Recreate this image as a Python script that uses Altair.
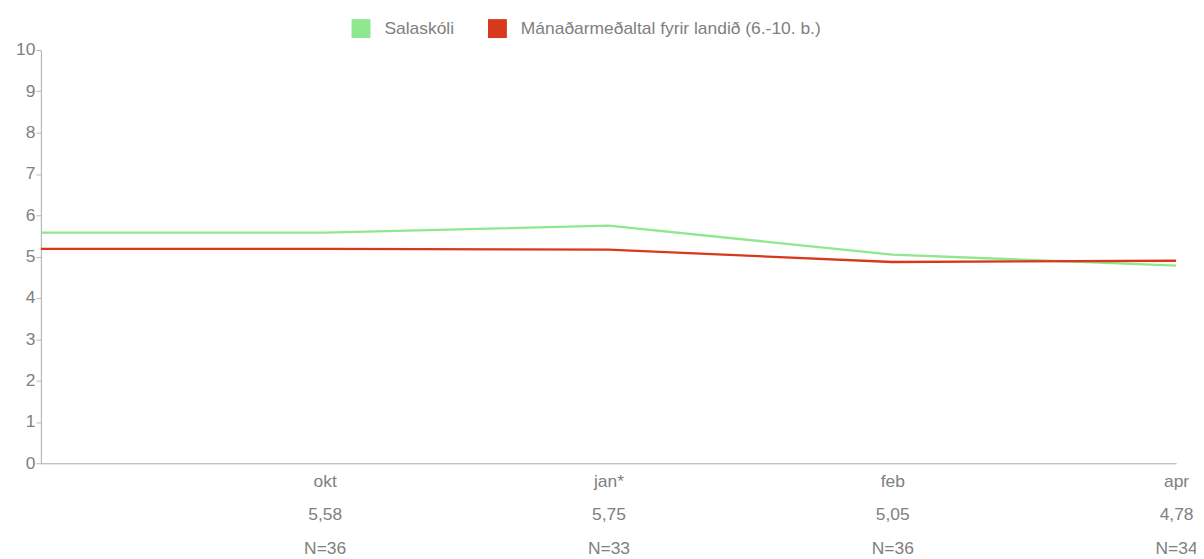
import altair as alt
import pandas as pd

categories = ["", "okt", "jan*", "feb", "apr"]
value_labels = ["", "5,58", "5,75", "5,05", "4,78"]
n_labels = ["", "N=36", "N=33", "N=36", "N=34"]
series_names = ["Salaskóli", "Mánaðarmeðaltal fyrir landið (6.-10. b.)"]
school_values = [5.58, 5.58, 5.75, 5.05, 4.78]
national_values = [5.19, 5.19, 5.17, 4.87, 4.90]
colors = ["#8fe88f", "#d8391c"]

rows = []
for i, c in enumerate(categories):
    rows.append({"cat": c, "series": series_names[0], "v": school_values[i], "order": i})
    rows.append({"cat": c, "series": series_names[1], "v": national_values[i], "order": i})
df = pd.DataFrame(rows)

expr = "''"
for c, v, n in zip(categories, value_labels, n_labels):
    if c == "":
        continue
    expr = f"datum.value === '{c}' ? ['{c}', '{v}', '{n}'] : ({expr})"

FONT = "Liberation Sans"
GRAY = "#808080"

chart = alt.Chart(df).mark_line(interpolate="linear", strokeWidth=2.3).encode(
    x=alt.X("cat:N", sort=categories, scale=alt.Scale(type="point", padding=0),
            axis=alt.Axis(title=None, labelExpr=expr, labelAngle=0, ticks=False,
                          labelLineHeight=34, labelPadding=9, labelFontSize=17.5,
                          labelColor=GRAY, domainColor="#aaa", labelFont=FONT)),
    y=alt.Y("v:Q", scale=alt.Scale(domain=[0, 10], nice=False),
            axis=alt.Axis(title=None, values=list(range(11)), tickSize=5, labelPadding=1,
                          labelFontSize=17.5, labelColor=GRAY, domainColor="#aaa",
                          tickColor="#bbb", grid=False, labelFont=FONT)),
    color=alt.Color("series:N", scale=alt.Scale(domain=series_names, range=colors),
                    legend=alt.Legend(title=None, orient="none", legendX=312, legendY=-31,
                                      direction="horizontal", symbolType="square",
                                      symbolSize=81, symbolStrokeWidth=10,
                                      labelFontSize=17.5, labelColor=GRAY, labelLimit=0,
                                      labelFont=FONT, labelOffset=14,
                                      columnPadding=18)),
    order="order:O",
).properties(
    width=1140, height=415,
    autosize=alt.AutoSizeParams(type="none"),
    padding={"left": 33, "top": 41, "right": 20, "bottom": 100},
).configure_view(stroke=None)

chart.save("out.html", embed_options={"renderer": "svg", "actions": False})
